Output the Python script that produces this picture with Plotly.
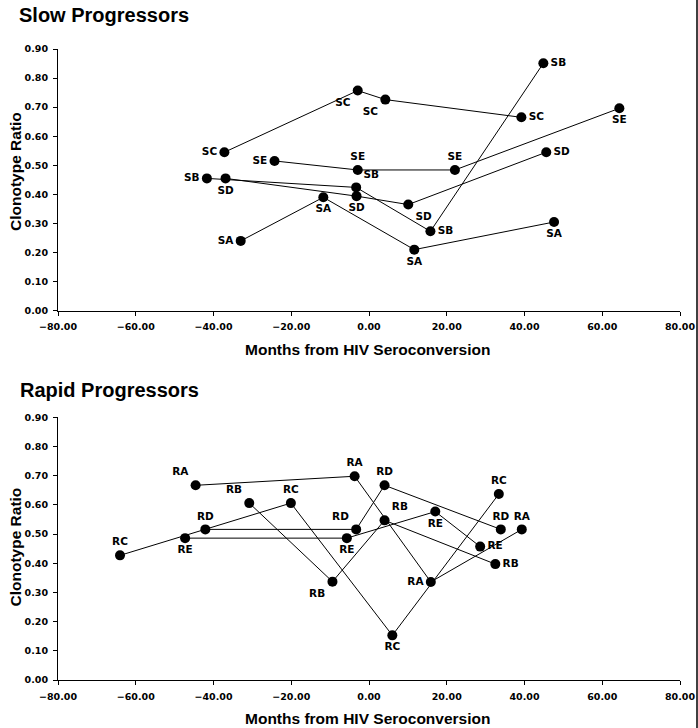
import plotly.graph_objects as go

# ---------------- data ----------------
series_slow = ["SA", "SB", "SC", "SD", "SE"]
SA_x = [-33.0, -11.75, 11.65, 47.6]
SA_y = [0.240, 0.390, 0.210, 0.305]
SB_x = [-41.7, -3.3, 15.8, 44.85]
SB_y = [0.455, 0.424, 0.273, 0.851]
SC_x = [-37.2, -2.9, 4.2, 39.2]
SC_y = [0.545, 0.757, 0.726, 0.665]
SD_x = [-36.9, -3.2, 10.1, 45.6]
SD_y = [0.455, 0.394, 0.365, 0.545]
SE_x = [-24.3, -2.9, 22.1, 64.4]
SE_y = [0.515, 0.484, 0.484, 0.696]

series_rapid = ["RA", "RB", "RC", "RD", "RE"]
RA_x = [-44.6, -3.7, 15.9, 39.3]
RA_y = [0.667, 0.698, 0.336, 0.516]
RB_x = [-30.8, -9.4, 4.0, 32.5]
RB_y = [0.606, 0.337, 0.547, 0.397]
RC_x = [-64.05, -20.1, 6.0, 33.4]
RC_y = [0.427, 0.606, 0.153, 0.637]
RD_x = [-42.1, -3.3, 4.0, 33.9]
RD_y = [0.516, 0.516, 0.667, 0.516]
RE_x = [-47.3, -5.7, 17.05, 28.6]
RE_y = [0.486, 0.486, 0.577, 0.457]

x_ticks = [-80, -60, -40, -20, 0, 20, 40, 60, 80]
y_ticks = [0.0, 0.1, 0.2, 0.3, 0.4, 0.5, 0.6, 0.7, 0.8, 0.9]

# ---------------- label placement (style) ----------------
pos = {
    "SA": ["middle left", "bottom center", "bottom center", "bottom center"],
    "SB": ["middle left", "top right", "middle right", "middle right"],
    "SC": ["middle left", "bottom left", "bottom left", "middle right"],
    "SD": ["bottom center", "bottom center", "bottom right", "middle right"],
    "SE": ["middle left", "top center", "top center", "bottom center"],
    "RA": ["top left", "top center", "middle left", "top center"],
    "RB": ["top left", "bottom left", "top right", "middle right"],
    "RC": ["top center", "top center", "bottom center", "top center"],
    "RD": ["top center", "top left", "top center", "top center"],
    "RE": ["bottom center", "bottom center", "bottom center", "middle right"],
}

data = {
    "SA": (SA_x, SA_y), "SB": (SB_x, SB_y), "SC": (SC_x, SC_y),
    "SD": (SD_x, SD_y), "SE": (SE_x, SE_y),
    "RA": (RA_x, RA_y), "RB": (RB_x, RB_y), "RC": (RC_x, RC_y),
    "RD": (RD_x, RD_y), "RE": (RE_x, RE_y),
}

W, H = 698, 728


def px(x):
    return x / W


def py(y):
    return 1 - y / H


LBL = dict(family="DejaVu Sans", size=10.5, color="black", weight="bold")
TICK = dict(family="DejaVu Sans", size=9.5, color="black", weight="bold")
TITLE = dict(family="Liberation Sans, Arial", size=15.5, color="black", weight="bold")
HEAD = dict(family="Liberation Sans, Arial", size=20, color="black", weight="bold")

fig = go.Figure()

for names, xa, ya in [(series_slow, "x", "y"), (series_rapid, "x2", "y2")]:
    for n in names:
        xs, ys = data[n]
        fig.add_trace(go.Scatter(
            x=xs, y=ys, xaxis=xa, yaxis=ya,
            mode="lines+markers+text",
            text=[n] * len(xs), textposition=pos[n], textfont=LBL,
            line=dict(color="black", width=1),
            marker=dict(color="black", size=10),
            cliponaxis=False, showlegend=False, hoverinfo="skip",
        ))

xdom = [px(58), px(680)]
top_dom = [py(310.7), py(49)]
bot_dom = [py(680), py(417.3)]


def xaxis(anchor):
    return dict(domain=xdom, anchor=anchor, range=[-80, 80], tickvals=x_ticks,
                tickformat=".2f", ticks="outside", ticklen=4, tickcolor="black",
                showline=True, linecolor="black", linewidth=1.3, showgrid=False,
                zeroline=False, tickfont=TICK, ticklabelstandoff=3, automargin=False)


def yaxis(anchor, dom):
    return dict(domain=dom, anchor=anchor, range=[0, 0.9], tickvals=y_ticks,
                tickformat=".2f", ticks="outside", ticklen=4, tickcolor="black",
                showline=True, linecolor="black", linewidth=1.1, showgrid=False,
                zeroline=False, tickfont=TICK, ticklabelstandoff=3, automargin=False)


annotations = [
    dict(text="Slow Progressors", x=px(17), y=py(15), xanchor="left", yanchor="middle", font=HEAD),
    dict(text="Rapid Progressors", x=px(18), y=py(390), xanchor="left", yanchor="middle", font=HEAD),
    dict(text="Clonotype Ratio", x=px(15), y=py(172), textangle=-90, xanchor="center", yanchor="middle", font=TITLE),
    dict(text="Clonotype Ratio", x=px(15), y=py(547.5), textangle=-90, xanchor="center", yanchor="middle", font=TITLE),
    dict(text="Months from HIV Seroconversion", x=px(368), y=py(349), xanchor="center", yanchor="middle", font=TITLE),
    dict(text="Months from HIV Seroconversion", x=px(368), y=py(718), xanchor="center", yanchor="middle", font=TITLE),
]
for a in annotations:
    a.update(xref="paper", yref="paper", showarrow=False)

fig.update_layout(
    width=W, height=H, margin=dict(l=0, r=0, t=0, b=0, autoexpand=False),
    paper_bgcolor="white", plot_bgcolor="white",
    xaxis=xaxis("y"), yaxis=yaxis("x", top_dom),
    xaxis2=xaxis("y2"), yaxis2=yaxis("x2", bot_dom),
    annotations=annotations,
    shapes=[dict(type="line", xref="paper", yref="paper", x0=px(697), x1=px(697),
                 y0=0, y1=1, line=dict(color="black", width=1.5))],
)

# remove the browser's default body margin so the 698x728 figure fills the window
fig.write_html(
    "out.html",
    config={"displayModeBar": False},
    post_script="document.body.style.margin='0px';document.body.style.overflow='hidden';",
)
